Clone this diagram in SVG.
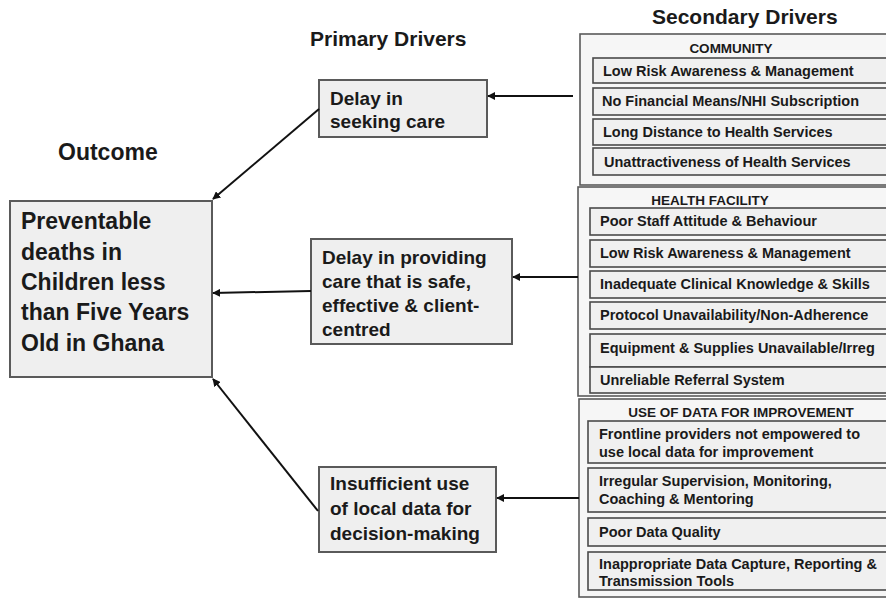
<svg xmlns="http://www.w3.org/2000/svg" width="886" height="598" viewBox="0 0 886 598">
<defs>
<style>
text{font-family:"Liberation Sans",Arial,sans-serif;font-weight:bold;fill:#1a1a1a}
.title{font-size:21px}
.outc{font-size:23px}
.prim{font-size:19px}
.sec{font-size:14.5px}
.hdr{font-size:13.5px;text-anchor:middle}
.box{fill:#efefef;stroke:#5a5a5a;stroke-width:2}
.grp{fill:#f6f6f6;stroke:#5a5a5a;stroke-width:1.6}
.item{fill:#f0f0f0;stroke:#4a4a4a;stroke-width:1.6}
.conn{stroke:#111;stroke-width:2;fill:none;marker-end:url(#ah)}
</style>
<marker id="ah" viewBox="0 0 10 10" refX="9" refY="5" markerWidth="4" markerHeight="4" orient="auto" markerUnits="strokeWidth">
<path d="M0,0 L10,5 L0,10 z" fill="#111"/>
</marker>
</defs>
<rect width="886" height="598" fill="#ffffff"/>

<g id="headings">
<text class="title" x="310" y="46">Primary Drivers</text>
<text class="title" x="652" y="24">Secondary Drivers</text>
<text class="outc" x="58" y="160">Outcome</text>
</g>

<g id="outcome">
<rect class="box" x="10" y="201" width="202" height="176"/>
<text class="outc" x="21" y="229">Preventable</text>
<text class="outc" x="21" y="260">deaths in</text>
<text class="outc" x="21" y="290">Children less</text>
<text class="outc" x="21" y="320">than Five Years</text>
<text class="outc" x="21" y="351">Old in Ghana</text>
</g>

<g id="primary-seeking">
<rect class="box" x="319" y="80" width="168" height="57"/>
<text class="prim" x="330" y="105">Delay in</text>
<text class="prim" x="330" y="128">seeking care</text>
</g>

<g id="primary-providing">
<rect class="box" x="311" y="239" width="201" height="105"/>
<text class="prim" x="322" y="264">Delay in providing</text>
<text class="prim" x="322" y="288">care that is safe,</text>
<text class="prim" x="322" y="312">effective &amp; client-</text>
<text class="prim" x="322" y="336">centred</text>
</g>

<g id="primary-data">
<rect class="box" x="319" y="467" width="177" height="85"/>
<text class="prim" x="330" y="490">Insufficient use</text>
<text class="prim" x="330" y="515">of local data for</text>
<text class="prim" x="330" y="540">decision-making</text>
</g>

<g id="community">
<rect class="grp" x="580" y="34" width="320" height="151"/>
<text class="hdr" x="731" y="53">COMMUNITY</text>
<rect class="item" x="593" y="58" width="300" height="25"/>
<text class="sec" x="603" y="76">Low Risk Awareness &amp; Management</text>
<rect class="item" x="593" y="88" width="300" height="27"/>
<text class="sec" x="602" y="106">No Financial  Means/NHI Subscription</text>
<rect class="item" x="593" y="119" width="300" height="26"/>
<text class="sec" x="603" y="137">Long Distance to Health Services</text>
<rect class="item" x="593" y="148" width="300" height="27"/>
<text class="sec" x="604" y="167">Unattractiveness of Health Services</text>
</g>

<g id="health-facility">
<rect class="grp" x="578" y="187" width="320" height="209"/>
<text class="hdr" x="710" y="205">HEALTH FACILITY</text>
<rect class="item" x="590" y="208" width="305" height="27"/>
<text class="sec" x="600" y="226">Poor Staff Attitude &amp; Behaviour</text>
<rect class="item" x="590" y="240" width="305" height="27"/>
<text class="sec" x="600" y="258">Low Risk Awareness &amp; Management</text>
<rect class="item" x="590" y="271" width="305" height="27"/>
<text class="sec" x="600" y="289">Inadequate Clinical  Knowledge &amp; Skills</text>
<rect class="item" x="590" y="302" width="305" height="27"/>
<text class="sec" x="600" y="320">Protocol Unavailability/Non-Adherence</text>
<rect class="item" x="590" y="334" width="305" height="33"/>
<text class="sec" x="600" y="353">Equipment &amp; Supplies Unavailable/Irreg</text>
<rect class="item" x="590" y="367" width="305" height="26"/>
<text class="sec" x="600" y="385">Unreliable Referral System</text>
</g>

<g id="use-of-data">
<rect class="grp" x="579" y="399" width="320" height="198"/>
<text class="hdr" x="741" y="417">USE OF DATA FOR IMPROVEMENT</text>
<rect class="item" x="588" y="421" width="305" height="42"/>
<text class="sec" x="599" y="439">Frontline providers not empowered to</text>
<text class="sec" x="599" y="457">use local data for improvement</text>
<rect class="item" x="588" y="468" width="305" height="44"/>
<text class="sec" x="599" y="486">Irregular Supervision, Monitoring,</text>
<text class="sec" x="599" y="504">Coaching  &amp; Mentoring</text>
<rect class="item" x="588" y="518" width="305" height="28"/>
<text class="sec" x="599" y="537">Poor Data Quality</text>
<rect class="item" x="588" y="552" width="305" height="38"/>
<text class="sec" x="599" y="569">Inappropriate  Data Capture, Reporting &amp;</text>
<text class="sec" x="599" y="586">Transmission  Tools</text>
</g>

<g id="connectors">
<line class="conn" x1="573" y1="96" x2="488" y2="96"/>
<line class="conn" x1="319" y1="109" x2="213" y2="199"/>
<line class="conn" x1="578" y1="277" x2="513" y2="277"/>
<line class="conn" x1="311" y1="291" x2="213" y2="293"/>
<line class="conn" x1="579" y1="498" x2="497" y2="498"/>
<line class="conn" x1="318" y1="511" x2="213" y2="379"/>
</g>
</svg>
